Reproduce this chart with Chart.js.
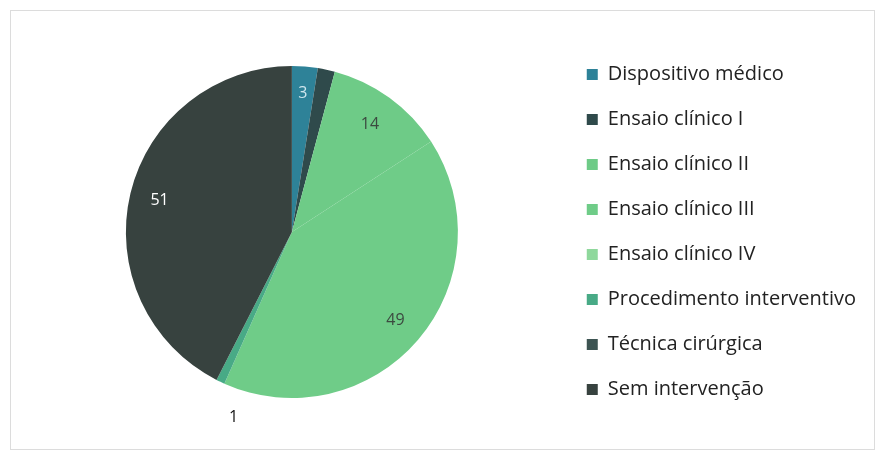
<!DOCTYPE html>
<html>
<head>
<meta charset="utf-8">
<script src="https://cdn.jsdelivr.net/npm/chart.js@4.4.1/dist/chart.umd.min.js"></script>
<style>
    body { margin: 0; background: #ffffff; }
    .wrap { position: relative; width: 881px; height: 453px; }
    .frame {
        position: absolute; left: 10px; top: 10px; width: 863px; height: 438px;
        border: 1px solid #dcdcdc; pointer-events: none;
    }
</style>
</head>
<body>
<div class="wrap">
    <canvas id="studyChart" width="881" height="453"></canvas>
    <div class="frame"></div>
</div>
<script>
// Tipos de estudo
const categories = [
    'Dispositivo médico',
    'Ensaio clínico I',
    'Ensaio clínico II',
    'Ensaio clínico III',
    'Ensaio clínico IV',
    'Procedimento interventivo',
    'Técnica cirúrgica',
    'Sem intervenção'
];
const counts = [3, 2, 14, 49, 0, 1, 0, 51];
const showLabel = [true, false, true, true, false, true, false, true];

const sliceColors = ['#2e8298', '#2f4a4b', '#6ecb87', '#6fcc88', '#8fd89c', '#48aa86', '#3d5452', '#37423f'];
const labelColors = ['#cfe6ee', '#2f4a4b', '#3c4a40', '#3c4a40', '#3c4a40', '#111111', '#ffffff', '#ffffff'];
const labelRadius = [0.84, 0.8, 0.8, 0.82, 0.8, 1.17, 0.8, 0.82];
const labelTurn = [0, 0, 0, 0, 0, -8, 0, 0];   // degrees, outside label nudged like Excel does

// draws the value of each slice
const sliceLabels = {
    id: 'sliceLabels',
    afterDatasetsDraw(chart) {
        const ctx = chart.ctx;
        const meta = chart.getDatasetMeta(0);
        ctx.save();
        ctx.font = '16px "Open Sans", sans-serif';
        ctx.textAlign = 'center';
        ctx.textBaseline = 'middle';
        meta.data.forEach((arc, i) => {
            if (!showLabel[i]) return;
            const p = arc.getProps(['x', 'y', 'startAngle', 'endAngle', 'outerRadius'], true);
            const mid = (p.startAngle + p.endAngle) / 2 + labelTurn[i] * Math.PI / 180;
            const r = p.outerRadius * labelRadius[i];
            ctx.fillStyle = labelColors[i];
            ctx.fillText(counts[i], p.x + Math.cos(mid) * r, p.y + Math.sin(mid) * r);
        });
        ctx.restore();
    }
};

function initializeStudyChart() {
    const ctx = document.getElementById('studyChart');
    if (!ctx) return;

    new Chart(ctx, {
        type: 'pie',
        data: {
            labels: categories,
            datasets: [{
                data: counts,
                backgroundColor: sliceColors,
                borderWidth: 0,
                hoverOffset: 0
            }]
        },
        options: {
            responsive: false,
            animation: false,
            radius: 166,
            layout: {
                padding: { top: 11, bottom: 0, left: 22, right: 15 }
            },
            plugins: {
                legend: {
                    position: 'right',
                    labels: {
                        boxWidth: 11,
                        boxHeight: 11,
                        padding: 25,
                        color: '#222222',
                        font: { family: '"Open Sans", sans-serif', size: 20 }
                    }
                },
                tooltip: { enabled: false }
            }
        },
        plugins: [sliceLabels]
    });
}

document.addEventListener('DOMContentLoaded', function () {
    initializeStudyChart();
});
</script>
</body>
</html>
